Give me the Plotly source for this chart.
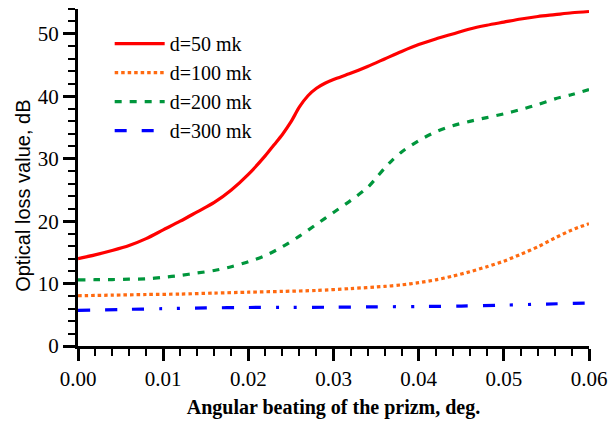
import plotly.graph_objects as go

# Angular beating of the prism (deg) vs optical loss (dB) for four thicknesses d
x_d50 = [0, .002, .004, .006, .008, .010, .012, .014, .016, .018, .020, .022, .023,
         .024, .025, .026, .027, .028, .029, .030, .032, .034, .036, .038, .040,
         .042, .044, .046, .048, .050, .052, .054, .056, .058, .060]
y_d50 = [14.0, 14.6, 15.3, 16.1, 17.2, 18.6, 20.0, 21.5, 23.0, 25.0, 27.5, 30.5, 32.2,
         33.9, 35.9, 38.3, 40.1, 41.3, 42.1, 42.7, 43.7, 44.8, 46.0, 47.2, 48.3,
         49.2, 50.0, 50.8, 51.4, 51.9, 52.4, 52.8, 53.1, 53.4, 53.6]

x_d100 = [0, .004, .008, .012, .016, .020, .024, .028, .032, .036, .038, .040, .042,
          .044, .046, .048, .050, .052, .054, .056, .058, .060]
y_d100 = [8.05, 8.15, 8.25, 8.32, 8.48, 8.62, 8.75, 8.9, 9.2, 9.55, 9.8, 10.15, 10.6,
          11.2, 11.9, 12.7, 13.6, 14.7, 15.9, 17.3, 18.6, 19.6]

x_d200 = [0, .002, .004, .006, .008, .010, .012, .014, .016, .018, .020, .022, .024,
          .026, .028, .030, .032, .034, .035, .036, .037, .038, .040, .042, .044,
          .046, .048, .050, .052, .054, .056, .058, .060]
y_d200 = [10.6, 10.62, 10.65, 10.7, 10.76, 11.0, 11.3, 11.7, 12.1, 12.7, 13.5, 14.5, 15.9,
          17.6, 19.5, 21.4, 23.3, 25.4, 26.9, 28.5, 29.9, 31.1, 32.9, 34.3, 35.3,
          36.0, 36.6, 37.2, 37.9, 38.7, 39.6, 40.3, 41.1]

x_d300 = [0, .005, .010, .015, .020, .025, .030, .035, .040, .045, .050, .055, .060]
y_d300 = [5.72, 5.85, 5.98, 6.1, 6.17, 6.19, 6.22, 6.27, 6.33, 6.4, 6.55, 6.72, 6.9]

names = ["d=50 mk", "d=100 mk", "d=200 mk", "d=300 mk"]
colors = ["#FF0000", "#FF6A10", "#00963C", "#0000FF"]
dashes = ["solid", "3.5px,3px", "7px,8px",
          "12px,15px,12px,15px,12px,15px,3px,15px,3px,15px"]

serif = "Liberation Serif, Times New Roman, serif"
sans = "Liberation Sans, Arial, sans-serif"

fig = go.Figure()
for xs, ys, nm, col, ds in zip([x_d50, x_d100, x_d200, x_d300],
                               [y_d50, y_d100, y_d200, y_d300],
                               names, colors, dashes):
    fig.add_trace(go.Scatter(x=xs, y=ys, mode="lines", name=nm,
                             line=dict(color=col, width=3.2, dash=ds,
                                       shape="spline", smoothing=0.8)))

axis_common = dict(
    showline=True, linecolor="black", linewidth=3,
    ticks="outside", ticklen=12, tickwidth=2.5, tickcolor="black",
    showgrid=False, zeroline=False,
    tickfont=dict(family=serif, size=21, color="black"),
)

fig.update_xaxes(range=[0, 0.06], dtick=0.01, tick0=0, tickformat=".2f",
                 minor=dict(dtick=0.002, ticklen=7, tickwidth=2, tickcolor="black",
                            ticks="outside"),
                 title=dict(text="<b>Angular beating of the prizm, deg.</b>",
                            font=dict(family=serif, size=20, color="black"),
                            standoff=10),
                 **axis_common)
fig.update_yaxes(range=[0, 54], dtick=10, tick0=0,
                 minor=dict(dtick=2, ticklen=7, tickwidth=2, tickcolor="black",
                            ticks="outside"),
                 **axis_common)

fig.add_annotation(text="Optical loss value, dB", textangle=-90,
                   xref="paper", yref="paper", x=-0.108, y=0.445,
                   xanchor="center", yanchor="middle", showarrow=False,
                   font=dict(family=sans, size=20, color="black"))

fig.update_layout(
    width=616, height=424,
    margin=dict(l=78, r=20, t=9, b=69),
    paper_bgcolor="white", plot_bgcolor="white",
    font=dict(family=serif, size=20, color="black"),
    showlegend=True,
    legend=dict(x=0.062, y=0.955, xanchor="left", yanchor="top",
                bgcolor="rgba(0,0,0,0)", tracegroupgap=0, itemwidth=50,
                font=dict(family=serif, size=20, color="black")),
)

fig.write_html("out.html")
